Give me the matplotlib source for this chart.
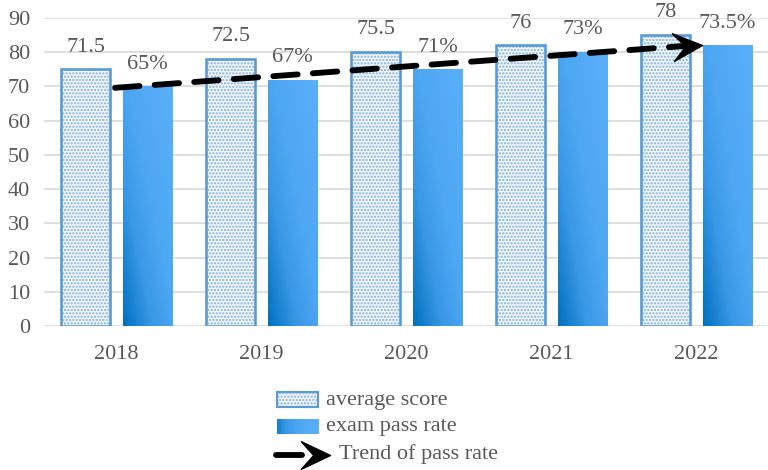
import numpy as np
import matplotlib
matplotlib.use("Agg")
import matplotlib.pyplot as plt
from matplotlib.patches import Rectangle
from matplotlib.path import Path
from matplotlib.markers import MarkerStyle
from matplotlib.transforms import Affine2D
from matplotlib.lines import Line2D
from matplotlib.colors import LinearSegmentedColormap

# ---------------- data ----------------
years = ["2018", "2019", "2020", "2021", "2022"]
avg_heights = [75, 78, 80, 82, 85]
pass_heights = [70, 72, 75, 80, 82]
avg_labels = ["71.5", "72.5", "75.5", "76", "78"]
pass_labels = ["65%", "67%", "71%", "73%", "73.5%"]
trend_x = [-0.01, 4.04]
trend_y = [69.6, 82.2]
y_ticks = [0, 10, 20, 30, 40, 50, 60, 70, 80, 90]
legend_labels = ["average score", "exam pass rate", "Trend of pass rate"]

# ---------------- style ----------------
plt.rcParams['font.family'] = ['Liberation Serif', 'DejaVu Serif']
plt.rcParams['hatch.linewidth'] = 1.1
txt = '#595959'
edge_blue = '#5B9BD5'
hatch_blue = '#80AEE0'
cmap = LinearSegmentedColormap.from_list(
    'g', [(0, '#0070C0'), (0.3, '#3A98E8'), (0.55, '#4EA7F3'), (1, '#5BAFF9')])
FS = 16

fig = plt.figure(figsize=(7.68, 4.70), dpi=100)
ax = fig.add_axes([44/768, 1-326/470, 725/768, 308/470])

x = np.arange(len(years))
w = 0.34
off = 0.213

avg_bars = ax.bar(x - off, avg_heights, w, facecolor='#F4F8FD', edgecolor=edge_blue,
                  linewidth=1.9, hatch='.....', zorder=3)
for b in avg_bars:
    b._hatch_color = matplotlib.colors.to_rgba(hatch_blue)

pass_bars = ax.bar(x + off, pass_heights, w, color='none', edgecolor='none', zorder=3)
xx, yy = np.meshgrid(np.linspace(0, 1, 60), np.linspace(0, 1, 160))
grad = (xx + yy) / 2
for b in pass_bars:
    x0, y0 = b.get_x(), b.get_y()
    bw, bh = b.get_width(), b.get_height()
    im = ax.imshow(grad, extent=[x0, x0 + bw, y0, y0 + bh], origin='lower',
                   cmap=cmap, vmin=0, vmax=1, aspect='auto', zorder=3,
                   interpolation='bilinear')
    im.set_clip_path(b)
ax.set_xlim(-0.5, 4.5)
ax.set_ylim(0, 90)

for xi, h, lab in zip(x - off, avg_heights, avg_labels):
    ax.annotate(lab, (xi, h), xytext=(0, 16), textcoords='offset points',
                ha='center', va='center', fontsize=FS, color=txt, zorder=5)
for xi, h, lab in zip(x + off, pass_heights, pass_labels):
    ax.annotate(lab, (xi, h), xytext=(0, 16), textcoords='offset points',
                ha='center', va='center', fontsize=FS, color=txt, zorder=5)

# trend line
ax.plot(trend_x, trend_y, color='black', linewidth=4.2, linestyle=(0, (4.2, 2.6)),
        dash_capstyle='round', zorder=6)
arrow_path = Path([(0, 0), (-2, 0.95), (-1.15, 0), (-2, -0.95), (0, 0)],
                  [Path.MOVETO, Path.LINETO, Path.LINETO, Path.LINETO, Path.CLOSEPOLY])
fig.canvas.draw()
p0 = ax.transData.transform((trend_x[0], trend_y[0]))
p1 = ax.transData.transform((trend_x[-1], trend_y[-1]))
ang = np.arctan2(p1[1] - p0[1], p1[0] - p0[0])
ms = MarkerStyle(arrow_path, transform=Affine2D().rotate(ang))
ax.plot([trend_x[-1]], [trend_y[-1]], marker=ms, markersize=42, color='black',
        linestyle='none', zorder=7)

# axes styling
ax.set_yticks(y_ticks)
ax.set_xticks(x)
ax.set_xticklabels(years)
ax.grid(axis='y', color='#D9D9D9', linewidth=1.2, zorder=0)
ax.set_axisbelow(True)
for s in ax.spines.values():
    s.set_visible(False)
ax.tick_params(axis='both', length=0, labelsize=FS, labelcolor=txt)
ax.tick_params(axis='x', pad=14)
ax.tick_params(axis='y', pad=10)

# ---------------- legend (drawn in figure pixel coords) ----------------
px = Affine2D().scale(1/768, -1/470).translate(0, 1) + fig.transFigure

fig.patches.append(Rectangle((277, 392), 41, 15, transform=px, facecolor='#F4F8FD',
                             edgecolor=edge_blue, linewidth=1.5, hatch='.....',
                             zorder=3))
fig.patches[-1]._hatch_color = matplotlib.colors.to_rgba(hatch_blue)
n = 24
for i in range(n):
    fig.patches.append(Rectangle((277 + 42 * i / n, 419), 42 / n + 0.4, 15,
                                 transform=px, facecolor=cmap(0.12 + 0.88 * i / n),
                                 edgecolor='none', zorder=3))
fig.lines.append(Line2D([276, 302], [455, 455], transform=px, color='black',
                        linewidth=4.2, solid_capstyle='round'))
fig.lines.append(Line2D([330], [455], transform=px, marker=MarkerStyle(arrow_path),
                        markersize=42, color='black', linestyle='none'))
fig.text(326/768, 1 - 400/470, legend_labels[0], fontsize=FS, color=txt,
         ha='left', va='center')
fig.text(326/768, 1 - 427/470, legend_labels[1], fontsize=FS, color=txt,
         ha='left', va='center')
fig.text(339/768, 1 - 454/470, legend_labels[2], fontsize=FS, color=txt,
         ha='left', va='center')

fig.savefig('out.png', dpi=100)
